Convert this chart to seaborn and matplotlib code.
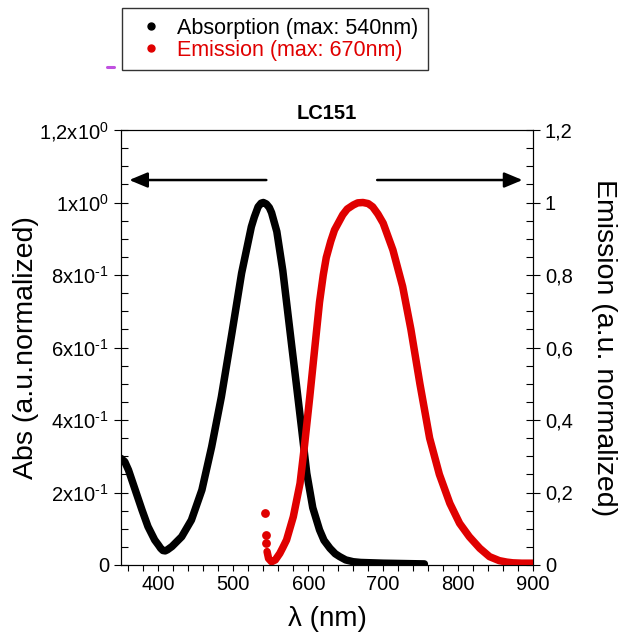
import matplotlib
matplotlib.use('Agg')
import numpy as np
import pandas as pd
import matplotlib.pyplot as plt
import seaborn as sns
from matplotlib.lines import Line2D
from matplotlib.ticker import MultipleLocator

# absorption spectrum (left axis)
abs_nm = [350, 355, 360, 369, 378, 386, 395, 400, 403, 406, 409, 412, 418, 431,
          444, 458, 471, 484, 498, 511, 524, 528, 533, 537, 540, 544, 548, 551,
          558, 566, 571, 578, 584, 591, 598, 606, 615, 621, 629, 636, 642, 650,
          660, 670, 700, 755]
abs_val = [0.294, 0.285, 0.262, 0.207, 0.152, 0.106, 0.069, 0.055, 0.046, 0.040,
           0.039, 0.042, 0.051, 0.078, 0.124, 0.207, 0.326, 0.464, 0.639, 0.805,
           0.933, 0.960, 0.988, 0.998, 1.000, 0.996, 0.986, 0.972, 0.920, 0.812,
           0.725, 0.603, 0.500, 0.378, 0.253, 0.158, 0.097, 0.068, 0.046, 0.031,
           0.023, 0.014, 0.009, 0.007, 0.005, 0.003]

# emission spectrum (right axis): a few stray points at onset, then the curve
em_onset_nm = [542, 543, 544]
em_onset_val = [0.143, 0.083, 0.060]
em_nm = [545, 547, 551, 556, 562, 566, 571, 580, 589, 595, 602, 609, 615, 620,
         624, 630, 635, 646, 652, 660, 666, 673, 680, 686, 693, 700, 713, 726,
         737, 749, 762, 775, 789, 802, 815, 829, 842, 855, 865, 873, 885, 900]
em_val = [0.037, 0.018, 0.009, 0.014, 0.032, 0.048, 0.069, 0.133, 0.225, 0.330,
          0.464, 0.605, 0.725, 0.800, 0.848, 0.893, 0.924, 0.966, 0.982, 0.993,
          0.999, 1.000, 0.997, 0.988, 0.968, 0.943, 0.869, 0.768, 0.650, 0.500,
          0.350, 0.250, 0.170, 0.115, 0.078, 0.046, 0.023, 0.012, 0.008, 0.006,
          0.005, 0.005]

y_ticks = [0, 0.2, 0.4, 0.6, 0.8, 1.0, 1.2]
left_labels = ['0', r'2x10$^{\text{-}1}$', r'4x10$^{\text{-}1}$',
               r'6x10$^{\text{-}1}$', r'8x10$^{\text{-}1}$',
               '1x10$^{0}$', '1,2x10$^{0}$']
right_labels = ['0', '0,2', '0,4', '0,6', '0,8', '1', '1,2']
x_ticks = [400, 500, 600, 700, 800, 900]

legend_labels = ['Absorption (max: 540nm)', 'Emission (max: 670nm)']
RED = '#E00000'

sns.set_style('ticks', {'axes.edgecolor': 'black', 'text.color': 'black',
                        'xtick.color': 'black', 'ytick.color': 'black',
                        'axes.labelcolor': 'black'})
plt.rcParams['font.family'] = ['Liberation Sans', 'DejaVu Sans']
plt.rcParams['mathtext.fontset'] = 'custom'
plt.rcParams['mathtext.rm'] = 'Liberation Sans'
plt.rcParams['mathtext.it'] = 'Liberation Sans'
plt.rcParams['axes.linewidth'] = 0.8

fig = plt.figure(figsize=(6.19, 6.33), dpi=100)
ax = fig.add_axes([121 / 619, 68 / 633, 412 / 619, 435 / 633])
ax2 = ax.twinx()

abs_df = pd.DataFrame({'nm': abs_nm, 'val': abs_val})
em_df = pd.DataFrame({'nm': em_nm, 'val': em_val})
onset_df = pd.DataFrame({'nm': em_onset_nm, 'val': em_onset_val})

sns.lineplot(data=abs_df, x='nm', y='val', color='black', lw=5.4,
             solid_capstyle='round', solid_joinstyle='round', ax=ax)
sns.lineplot(data=em_df, x='nm', y='val', color=RED, lw=5.4,
             solid_capstyle='round', solid_joinstyle='round', ax=ax2)
sns.scatterplot(data=onset_df, x='nm', y='val', color=RED, s=40,
                linewidth=0, ax=ax2)

for a in (ax, ax2):
    a.set_xlim(350, 900)
    a.set_ylim(0, 1.2)
    a.set_yticks(y_ticks)
    a.yaxis.set_minor_locator(MultipleLocator(0.05))

ax.set_xticks(x_ticks)
ax.xaxis.set_minor_locator(MultipleLocator(20))
ax.set_yticklabels(left_labels)
ax2.set_yticklabels(right_labels)

ax.tick_params(axis='x', which='both', direction='out', length=4, width=0.8,
               labelsize=14.5, top=False)
ax.tick_params(axis='y', which='major', direction='inout', length=10, width=0.8,
               labelsize=14.5)
ax.tick_params(axis='y', which='minor', direction='in', length=5, width=0.8)
ax2.tick_params(axis='y', which='major', direction='inout', length=10, width=0.8,
                labelsize=14.5)
ax2.tick_params(axis='y', which='minor', direction='in', length=5, width=0.8)

ax.set_xlabel('λ (nm)', fontsize=20, labelpad=8)
ax.set_ylabel('Abs (a.u.normalized)', fontsize=20.5, labelpad=0)
ax2.set_ylabel('Emission (a.u. normalized)', fontsize=20.5, rotation=270,
               va='bottom', labelpad=13)
ax.set_title('LC151', fontsize=14.5, fontweight='bold', pad=8)

# direction arrows
arrow_kw = dict(arrowstyle='-|>,head_length=0.55,head_width=0.23', color='black',
                lw=1.8, shrinkA=0, shrinkB=0, mutation_scale=20)
ax.annotate('', xy=(361, 1.062), xytext=(544, 1.062), arrowprops=arrow_kw)
ax.annotate('', xy=(886, 1.062), xytext=(692, 1.062), arrowprops=arrow_kw)

handles = [Line2D([], [], ls='', marker='o', color='black', markersize=5),
           Line2D([], [], ls='', marker='o', color=RED, markersize=5)]
leg = fig.legend(handles, legend_labels, loc='upper left',
                 bbox_to_anchor=(122 / 619, 1 - 8 / 633),
                 bbox_transform=fig.transFigure, frameon=True, fancybox=False,
                 edgecolor='black', fontsize=15.5, handlelength=1.8,
                 handletextpad=0.3, borderpad=0.45, labelspacing=0.05,
                 borderaxespad=0)
leg.get_frame().set_linewidth(1.0)
leg.get_texts()[1].set_color(RED)

# small purple mark left of legend
fig.add_artist(Line2D([107 / 619, 114 / 619], [1 - 67 / 633] * 2,
                      color='#c050e0', lw=2.2))

plt.savefig('out.png', dpi=100)
plt.close()
